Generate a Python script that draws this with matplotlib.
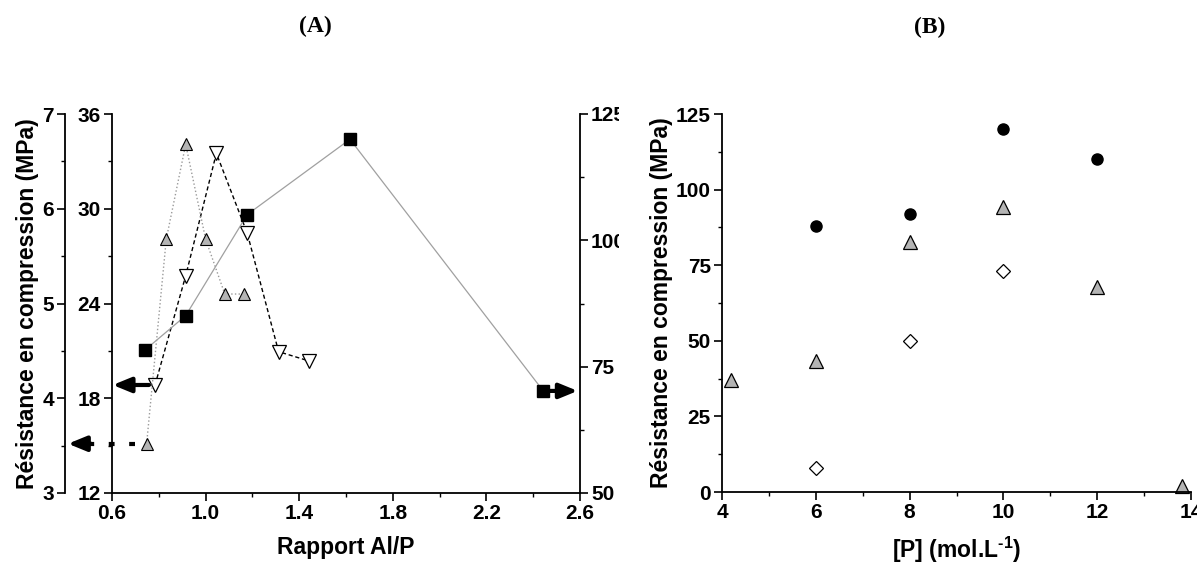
import numpy as np
import matplotlib
matplotlib.use("Agg")
import matplotlib.pyplot as plt
from matplotlib.transforms import Bbox, TransformedBbox
from matplotlib.ticker import MultipleLocator

plt.rcParams['font.family'] = ['Liberation Sans', 'DejaVu Sans']
plt.rcParams['font.weight'] = 'bold'
plt.rcParams['axes.labelweight'] = 'bold'
plt.rcParams['mathtext.fontset'] = 'custom'
plt.rcParams['mathtext.rm'] = 'Liberation Sans:bold'
plt.rcParams['mathtext.bf'] = 'Liberation Sans:bold'

# ---- panel A data (Rapport Al/P) ----
al_p_sq = [0.741, 0.915, 1.178, 1.617, 2.443]
res_sq = [78.3, 85.1, 105.1, 120.0, 70.2]            # right axis (50-125)

al_p_up = [0.748, 0.832, 0.915, 1.000, 1.082, 1.165]
res_up = [3.52, 5.68, 6.68, 5.68, 5.10, 5.10]        # outer left axis (3-7)

al_p_dn = [0.784, 0.915, 1.046, 1.178, 1.312, 1.442]
res_dn = [18.84, 25.76, 33.51, 28.45, 20.95, 20.36]  # inner left axis (12-36)

# ---- panel B data ([P] mol/L) ----
p_circ = [6, 8, 10, 12]
res_circ = [88, 92, 120, 110]
p_tri = [4.2, 6, 8, 10, 12, 13.8]
res_tri = [37, 43.4, 82.6, 94.3, 67.9, 2.0]
p_dia = [6, 8, 10]
res_dia = [8, 50, 73.1]

W, H = 1201, 565
fig = plt.figure(figsize=(W / 100, H / 100), dpi=100)

grey = '#b4b4b4'
tick_fs = 15
lab_fs = 16.5


def style_axis(a):
    a.tick_params(axis='both', which='major', direction='out', length=6, width=1.2,
                  labelsize=tick_fs, pad=2)
    a.tick_params(axis='both', which='minor', direction='out', length=3, width=1.0)
    for s in a.spines.values():
        s.set_linewidth(1.3)


# ================= panel A =================
ax = fig.add_axes([112 / W, 1 - 493 / H, 468 / W, 379 / H])
ax_out = ax.twinx()
ax_r = ax.twinx()

for a in (ax, ax_out, ax_r):
    a.spines['top'].set_visible(False)
    style_axis(a)
ax.spines['right'].set_visible(False)

ax.set_xlim(0.6, 2.6)
ax.set_xticks([0.6, 1.0, 1.4, 1.8, 2.2, 2.6])
ax.xaxis.set_minor_locator(MultipleLocator(0.2))
ax.set_ylim(12, 36)
ax.set_yticks([12, 18, 24, 30, 36])
ax.yaxis.set_minor_locator(MultipleLocator(3))
ax.set_xlabel('Rapport Al/P', fontsize=lab_fs, labelpad=9)

# outer left axis
ax_out.set_ylim(3, 7)
ax_out.set_yticks([3, 4, 5, 6, 7])
ax_out.yaxis.set_minor_locator(MultipleLocator(0.5))
ax_out.spines['right'].set_visible(False)
ax_out.spines['bottom'].set_visible(False)
ax_out.spines['left'].set_visible(True)
ax_out.spines['left'].set_position(('outward', 47 * 0.72))
ax_out.yaxis.set_ticks_position('left')
ax_out.yaxis.set_label_position('left')
ax_out.set_ylabel('Résistance en compression (MPa)', fontsize=lab_fs, labelpad=2)

# right axis
ax_r.set_ylim(50, 125)
ax_r.set_yticks([50, 75, 100, 125])
ax_r.yaxis.set_minor_locator(MultipleLocator(12.5))
ax_r.spines['left'].set_visible(False)
ax_r.spines['bottom'].set_visible(False)

ax_r.plot(al_p_sq, res_sq, color='#a0a0a0', lw=0.9, ls='-', marker='s', ms=8,
          mfc='black', mec='black', zorder=3)
ax_out.plot(al_p_up, res_up, color='#9a9a9a', lw=1.0, ls=':', marker='^', ms=8,
            mfc=grey, mec='black', mew=0.8)
ax.plot(al_p_dn, res_dn, color='black', lw=1.0, ls=(0, (3, 2)), marker='v', ms=10,
        mfc='white', mec='black', mew=0.9, zorder=4)

arrow_kw = dict(arrowstyle='-|>,head_length=1.1,head_width=0.45', color='black',
                lw=3, mutation_scale=10, shrinkA=0, shrinkB=0)

# solid arrow -> inner left axis
ax.annotate('', xy=(0.603, res_dn[0]), xytext=(0.758, res_dn[0]),
            arrowprops=arrow_kw, annotation_clip=False)
# dashed arrow -> outer left axis
ax_out.plot([0.698, 0.5], [res_up[0], res_up[0]], color='black', lw=3,
            ls=(0, (1.4, 3.5)), clip_on=False, solid_capstyle='butt', dash_capstyle='butt')
ax_out.annotate('', xy=(0.412, res_up[0]), xytext=(0.51, res_up[0]),
                arrowprops=arrow_kw, annotation_clip=False)
# arrow -> right axis
ax_r.annotate('', xy=(2.59, res_sq[-1]), xytext=(2.46, res_sq[-1]),
              arrowprops=arrow_kw, annotation_clip=False)

fig.text(315 / W, 1 - 26 / H, '(A)', ha='center', va='center', fontsize=17,
         family='Liberation Serif', weight='bold')

# ================= panel B =================
bx = fig.add_axes([722 / W, 1 - 492 / H, 469 / W, 378 / H])
style_axis(bx)
bx.spines['top'].set_visible(False)
bx.spines['right'].set_visible(False)
bx.set_xlim(4, 14)
bx.set_xticks([4, 6, 8, 10, 12, 14])
bx.xaxis.set_minor_locator(MultipleLocator(1))
bx.set_ylim(0, 125)
bx.set_yticks([0, 25, 50, 75, 100, 125])
bx.yaxis.set_minor_locator(MultipleLocator(12.5))

bx.plot(p_circ, res_circ, ls='none', marker='o', ms=8, mfc='black', mec='black')
bx.plot(p_tri, res_tri, ls='none', marker='^', ms=9.5, mfc=grey, mec='black', mew=0.9,
        clip_on=False)
bx.plot(p_dia, res_dia, ls='none', marker='D', ms=7.5, mfc='white', mec='black', mew=0.9)

bx.set_xlabel('[P] (mol.L$^{\\text{-1}}$)', fontsize=lab_fs, labelpad=9)
bx.set_ylabel('Résistance en compression (MPa)', fontsize=lab_fs, labelpad=2)

fig.text(930 / W, 1 - 27 / H, '(B)', ha='center', va='center', fontsize=17,
         family='Liberation Serif', weight='bold')

# cropped labels at the right edges, as in the original composite
clip_a = TransformedBbox(Bbox.from_extents(0, 0, 619 / W, 1), fig.transFigure)
for t in ax_r.get_yticklabels():
    t.set_clip_on(True)
    t.set_clip_box(clip_a)
clip_b = TransformedBbox(Bbox.from_extents(0, 0, 1197 / W, 1), fig.transFigure)
for t in bx.get_xticklabels():
    t.set_clip_on(True)
    t.set_clip_box(clip_b)

fig.savefig('out.png', dpi=100)
